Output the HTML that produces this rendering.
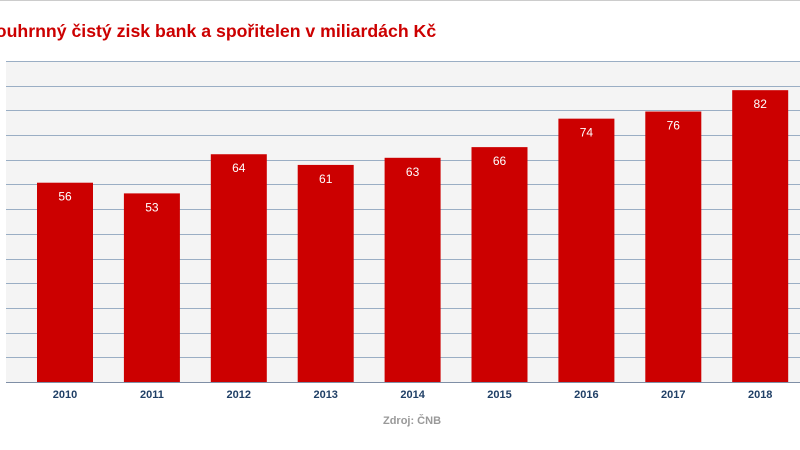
<!DOCTYPE html>
<html><head><meta charset="utf-8"><style>
html,body{margin:0;padding:0;width:800px;height:450px;overflow:hidden;background:#fff;font-family:"Liberation Sans",sans-serif}
</style></head><body>
<svg id="chart" width="800" height="450" xmlns="http://www.w3.org/2000/svg">
<line x1="0" y1="0.5" x2="800" y2="0.5" stroke="#ccc"/>
<text x="-16" y="37" font-size="17.7" font-weight="bold" fill="#cc0000">Souhrnný čistý zisk bank a spořitelen v miliardách Kč</text>
<rect x="6" y="61" width="794" height="321" fill="#f4f4f4"/>
<g id="grid"></g><g id="bars"></g><g id="xlabels"></g>
<text x="412" y="424" font-size="11" font-weight="bold" fill="#999" text-anchor="middle">Zdroj: ČNB</text>
</svg>
<script>
const years=["2010","2011","2012","2013","2014","2015","2016","2017","2018"];
const values=[56,53,64,61,63,66,74,76,82];
const gridCount=13;
const yMax=90.2;
const ns="http://www.w3.org/2000/svg";
const plotTop=61,base=382,x0=65,step=86.9,bw=56;
function yPos(v){return base-(base-plotTop)*v/yMax;}
function xPos(i){return x0+i*step;}
function mk(t,a,p){const e=document.createElementNS(ns,t);for(const k in a)e.setAttribute(k,a[k]);p.appendChild(e);return e;}
const g=document.getElementById('grid');
for(let i=0;i<=gridCount;i++){
  const yy=Math.round(plotTop+(base-plotTop)*i/gridCount)+0.5;
  const l=mk('line',{x1:6,x2:800,y1:yy,y2:yy,stroke:i==gridCount?'#7f8fa6':'#9aaec4','stroke-width':1},g);
  
  
}
const b=document.getElementById('bars'),xl=document.getElementById('xlabels');
values.forEach((v,i)=>{
  const r=mk('rect',{x:xPos(i)-bw/2,y:yPos(v),width:bw,height:base-yPos(v),fill:'#cc0000'},b);
  
  
  const t=mk('text',{x:xPos(i),y:yPos(v)+18,'font-size':12,fill:'#fff','text-anchor':'middle'},b);
  t.textContent=v;
  
  
  const xt=mk('text',{x:xPos(i),y:398,'font-size':11,'font-weight':'bold',fill:'#1f3f66','text-anchor':'middle'},xl);
  xt.textContent=years[i];
  
  
});
</script>
</body></html>
